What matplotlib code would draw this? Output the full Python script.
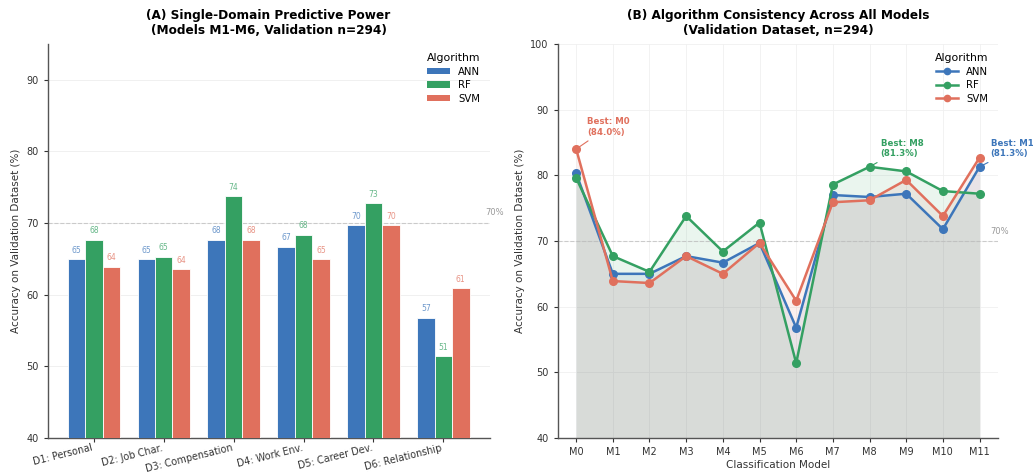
import numpy as np
import matplotlib
matplotlib.use("Agg")
import matplotlib.pyplot as plt
from matplotlib.patches import Patch
from matplotlib.lines import Line2D

# data
DOMAINS = ["D1: Personal", "D2: Job Char.", "D3: Compensation",
           "D4: Work Env.", "D5: Career Dev.", "D6: Relationship"]
ANN_DOM = [65.0, 65.0, 67.7, 66.7, 69.7, 56.8]
RF_DOM = [67.7, 65.3, 73.8, 68.4, 72.8, 51.4]
SVM_DOM = [63.9, 63.6, 67.7, 65.0, 69.7, 60.9]

MODELS = ["M0", "M1", "M2", "M3", "M4", "M5", "M6", "M7", "M8", "M9", "M10", "M11"]
ANN_ALL = [80.3, 65.0, 65.0, 67.7, 66.7, 69.7, 56.8, 77.0, 76.7, 77.2, 71.8, 81.3]
RF_ALL = [79.6, 67.7, 65.3, 73.8, 68.4, 72.8, 51.4, 78.6, 81.3, 80.6, 77.6, 77.2]
SVM_ALL = [84.0, 63.9, 63.6, 67.7, 65.0, 69.7, 60.9, 75.9, 76.2, 79.3, 73.8, 82.7]

ALGOS = ["ANN", "RF", "SVM"]
COLORS = {"ANN": "#3D76BA", "RF": "#34A062", "SVM": "#E0705D"}
THRESH = 70

plt.rcParams['font.family'] = ['DejaVu Sans']

fig = plt.figure(figsize=(10.33, 4.73), dpi=100)
fig.patch.set_facecolor('white')
ax1 = fig.add_axes([0.046, 0.074, 0.428, 0.833])
ax2 = fig.add_axes([0.540, 0.074, 0.426, 0.833])

# ---- panel A : bars
x = np.arange(len(DOMAINS))
w = 0.25
dom_vals = {"ANN": ANN_DOM, "RF": RF_DOM, "SVM": SVM_DOM}
for i, algo in enumerate(ALGOS):
    vals = dom_vals[algo]
    bars = ax1.bar(x + (i - 1) * w, vals, w, color=COLORS[algo],
                   edgecolor='white', linewidth=0.6, label=algo, zorder=3)
    for b, v in zip(bars, vals):
        ax1.text(b.get_x() + b.get_width() / 2, v + 0.6, "{:.0f}".format(v),
                 ha='center', va='bottom', fontsize=5.5,
                 color=COLORS[algo], alpha=0.75)

ax1.axhline(THRESH, color='#BBBBBB', linestyle='--', linewidth=0.8, alpha=0.7, zorder=1)
ax1.text(5.6, THRESH + 0.8, "70%", fontsize=6, color='#999999', ha='left', va='bottom')
ax1.set_ylim(40, 95)
ax1.set_xticks(x)
ax1.set_xticklabels(DOMAINS, rotation=14, ha='right', fontsize=6.9)
ax1.tick_params(axis='x', pad=0.5)
ax1.set_yticks([40, 50, 60, 70, 80, 90])
ax1.set_ylabel("Accuracy on Validation Dataset (%)", fontsize=7.5, color='#333333')
ax1.set_title("(A) Single-Domain Predictive Power\n(Models M1-M6, Validation n=294)",
              fontsize=8.7, fontweight='bold', pad=7)
ax1.grid(axis='y', color='#EEEEEE', linewidth=0.6, zorder=0)
ax1.set_axisbelow(True)
handles = [Patch(facecolor=COLORS[a], label=a) for a in ALGOS]
ax1.legend(handles=handles, title="Algorithm", loc='upper right', fontsize=7.3,
           title_fontsize=7.8, frameon=False, handlelength=2.2, handleheight=0.6,
           labelspacing=0.35)

# ---- panel B : lines
xm = np.arange(len(MODELS))
all_vals = {"ANN": ANN_ALL, "RF": RF_ALL, "SVM": SVM_ALL}
for algo in ALGOS:
    vals = all_vals[algo]
    ax2.fill_between(xm, 40, vals, color=COLORS[algo], alpha=0.1, linewidth=0, zorder=1)
    ax2.plot(xm, vals, '-o', color=COLORS[algo], linewidth=1.8, markersize=5.5,
             label=algo, zorder=3)

# best point annotations
offsets = {"ANN": (8, 6), "RF": (8, 6), "SVM": (8, 9)}
for algo in ALGOS:
    vals = all_vals[algo]
    k = int(np.argmax(vals))
    ax2.annotate("Best: {}\n({:.1f}%)".format(MODELS[k], vals[k]),
                 xy=(k, vals[k]), xytext=offsets[algo], textcoords='offset points',
                 fontsize=6.2, fontweight='bold', color=COLORS[algo],
                 ha='left', va='bottom',
                 arrowprops=dict(arrowstyle='-', color=COLORS[algo], linewidth=0.8))

ax2.axhline(THRESH, color='#BBBBBB', linestyle='--', linewidth=0.8, alpha=0.7, zorder=2)
ax2.text(11.3, THRESH + 0.7, "70%", fontsize=6, color='#999999', ha='left', va='bottom')
ax2.set_xlim(-0.5, 11.5)
ax2.set_ylim(40, 100)
ax2.set_xticks(xm)
ax2.set_xticklabels(MODELS, fontsize=7)
ax2.set_yticks([40, 50, 60, 70, 80, 90, 100])
ax2.set_xlabel("Classification Model", fontsize=7.5, color='#333333', labelpad=2)
ax2.set_ylabel("Accuracy on Validation Dataset (%)", fontsize=7.5, color='#333333')
ax2.set_title("(B) Algorithm Consistency Across All Models\n(Validation Dataset, n=294)",
              fontsize=8.7, fontweight='bold', pad=7)
ax2.grid(True, color='#F0F0F0', linewidth=0.6, zorder=0)
ax2.set_axisbelow(True)
handles = [Line2D([0], [0], color=COLORS[a], marker='o', markersize=4.5,
                  linewidth=1.8, label=a) for a in ALGOS]
ax2.legend(handles=handles, title="Algorithm", loc='upper right', fontsize=7.3,
           title_fontsize=7.8, frameon=False, handlelength=2.2, labelspacing=0.35)

for ax in (ax1, ax2):
    ax.spines['top'].set_visible(False)
    ax.spines['right'].set_visible(False)
    ax.spines['left'].set_color('#555555')
    ax.spines['bottom'].set_color('#555555')
    ax.spines['left'].set_linewidth(1.0)
    ax.spines['bottom'].set_linewidth(1.0)
    ax.tick_params(axis='y', labelsize=7, colors='#333333', length=3)
    ax.tick_params(axis='x', colors='#333333', length=3)

fig.savefig("out.png", dpi=100, facecolor='white')
